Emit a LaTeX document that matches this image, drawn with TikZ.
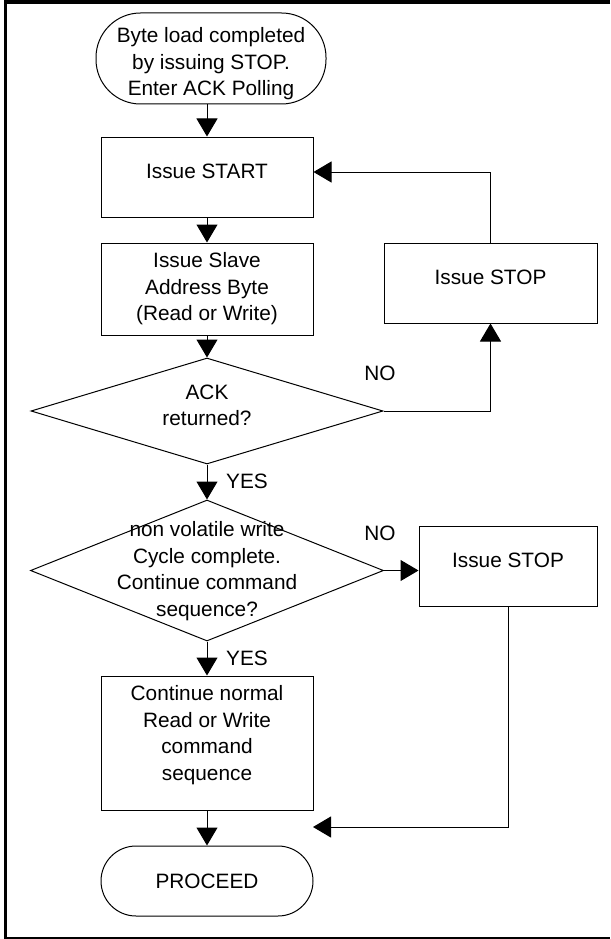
\documentclass[tikz,border=0pt]{standalone}
\usepackage{fontspec}
\setmainfont{Liberation Sans}
\usetikzlibrary{positioning,arrows.meta,shapes.geometric}

\begin{document}
\begin{tikzpicture}[x=1pt,y=-1pt,every node/.style={font=\fontsize{20.8}{26.5}\selectfont},block/.style={draw,rectangle,line width=1pt,minimum width=212pt,minimum height=80pt,inner sep=0pt,align=center},term/.style={block,rounded corners=#1},decision/.style={draw,diamond,line width=1pt,inner sep=0pt},txt/.style={align=center,inner sep=0pt},>={Triangle[length=18pt,width=21pt]},arrow/.style={draw=black, ->, line width=1pt}]
  \useasboundingbox (0,0) rectangle (610,939);
  \draw[line width=3.5pt] (610,2) -| (5.5,938);
  \draw[line width=2.5pt] (4,938) -- (610,938);

  \node[term=44.5pt,minimum width=230pt,minimum height=91pt,text height=78.5pt] (begin) at (211,58.5) {Byte load completed\\by issuing STOP.\\Enter ACK Polling};
  \node[block,text depth=12pt] (start) at (207,177) {Issue START};
  \node[block,minimum height=92pt] (slave) at (207,289) {Issue Slave\\Address Byte\\(Read or Write)};
  \node[decision,minimum width=352pt,minimum height=106pt] (ack) at (207,411) {};
  \node[txt] (acktxt) at (207,405.5) {ACK\\returned?};
  \node[block,minimum width=213pt,text depth=12pt] (stop1) at (490.5,283) {Issue STOP};

  \node[decision,minimum width=353pt,minimum height=141pt] (nvw) at (207,570.5) {};
  \node[txt] (nvwtxt) at (207,571) {non volatile write\\Cycle complete.\\Continue command\\sequence?};
  \node[block,minimum width=178pt,text depth=12pt] (stop2) at (508,566) {Issue STOP};
  \node[block,minimum height=134pt,text depth=20pt] (cont) at (207,743) {Continue normal\\Read or Write\\command\\sequence};
  \node[term=35pt,minimum height=70pt] (proceed) at (207,881) {PROCEED};
  \coordinate (merge) at (313,827);

  \node (yes1) at (247,481) {YES};
  \node (yes2) at (247,658) {YES};
  \node (no1) at (380,373) {NO};
  \node (no2) at (380,533) {NO};

  \draw[arrow] (begin.south -| start.north) -- (start.north);
  \draw[arrow] (start) -- (slave);
  \draw[arrow] (slave) -- (ack);
  \draw[arrow] (ack) -- (nvw);
  \draw[arrow] (nvw) -- (cont);
  \draw[arrow] (cont) -- (proceed);
  \draw[arrow] (ack.east) -| (stop1.south);
  \draw[arrow] (stop1.north) |- ([yshift=5pt]start.east);
  \draw[arrow] (nvw.east) -- (nvw.east -| stop2.west);
  \draw[arrow] (stop2.south) |- (merge);
\end{tikzpicture}
\end{document}
